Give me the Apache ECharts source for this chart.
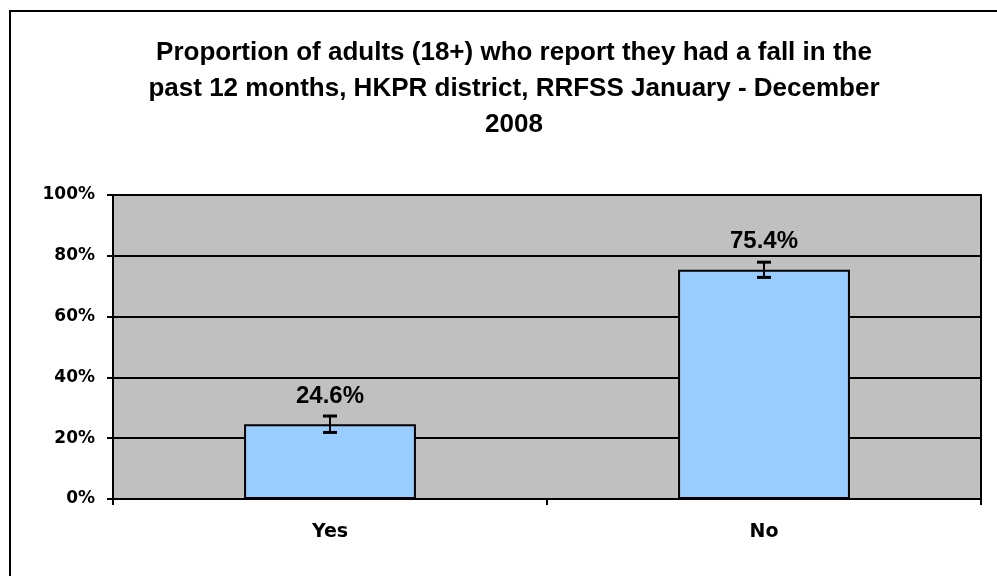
<!DOCTYPE html>
<html>
<head>
<meta charset="utf-8">
<script src="https://cdn.jsdelivr.net/npm/echarts@6/dist/echarts.min.js"></script>
<style>
  html, body { margin: 0; padding: 0; background: #fff; }
  #fallChart { width: 997px; height: 576px; }
</style>
</head>
<body>
<div id="fallChart"></div>
<script>
// data
const categories = ['Yes', 'No']
const proportions = [24.6, 75.4]
const errLow = [21.9, 72.9]
const errHigh = [27.3, 77.9]
const yTicks = [0, 20, 40, 60, 80, 100]

const chart = echarts.init(document.getElementById('fallChart'))

chart.setOption({
    backgroundColor: '#ffffff',
    animation: false,
    title: {
        text: 'Proportion of adults (18+) who report they had a fall in the\npast 12 months, HKPR district, RRFSS January - December\n2008',
        left: 509,
        textAlign: 'center',
        top: 30,
        textStyle: {
            fontFamily: 'Liberation Sans',
            fontWeight: 'bold',
            fontSize: 26,
            lineHeight: 36,
            color: '#000'
        }
    },
    // outer frame of the chart sheet
    graphic: [{
        type: 'rect',
        silent: true,
        shape: { x: 10, y: 11, width: 1100, height: 700 },
        style: { fill: 'none', stroke: '#000', lineWidth: 2 }
    }],
    grid: {
        left: 113,
        top: 195,
        right: 16,
        bottom: 77,
        show: true,
        backgroundColor: '#C0C0C0',
        borderColor: '#000',
        borderWidth: 2
    },
    xAxis: {
        type: 'category',
        data: categories,
        axisLine: { lineStyle: { color: '#000', width: 2 } },
        axisTick: { show: true, length: 6, lineStyle: { color: '#000', width: 2 } },
        axisLabel: {
            margin: 24,
            fontFamily: 'DejaVu Sans',
            fontWeight: 'bold',
            fontSize: 19,
            color: '#000'
        }
    },
    yAxis: {
        type: 'value',
        min: yTicks[0],
        max: yTicks[yTicks.length - 1],
        interval: 20,
        axisLine: { show: true, lineStyle: { color: '#000', width: 2 } },
        axisTick: { show: true, length: 6, lineStyle: { color: '#000', width: 2 } },
        axisLabel: {
            margin: 18,
            formatter: '{value}%',
            fontFamily: 'DejaVu Sans',
            fontWeight: 'bold',
            fontSize: 17,
            color: '#000'
        },
        splitLine: { show: true, lineStyle: { color: '#000', width: 2 } }
    },
    series: [{
        type: 'bar',
        data: proportions,
        barWidth: '39.6%',
        itemStyle: {
            color: '#99CCFF',
            borderColor: '#000',
            borderWidth: 2
        },
        label: {
            show: true,
            position: 'top',
            distance: 16,
            formatter: '{c}%',
            fontFamily: 'Liberation Sans',
            fontWeight: 'bold',
            fontSize: 24,
            color: '#000'
        },
        z: 2
    }, {
        // error bars
        type: 'custom',
        data: categories.map((c, i) => [i, errLow[i], errHigh[i]]),
        renderItem: function (params, api) {
            const lo = api.coord([api.value(0), api.value(1)])
            const hi = api.coord([api.value(0), api.value(2)])
            const half = 7
            return {
                type: 'group',
                children: [
                    { type: 'line', shape: { x1: lo[0], y1: lo[1], x2: hi[0], y2: hi[1] }, style: { stroke: '#000', lineWidth: 2 } },
                    { type: 'line', shape: { x1: lo[0] - half, y1: lo[1], x2: lo[0] + half, y2: lo[1] }, style: { stroke: '#000', lineWidth: 3 } },
                    { type: 'line', shape: { x1: hi[0] - half, y1: hi[1], x2: hi[0] + half, y2: hi[1] }, style: { stroke: '#000', lineWidth: 3 } }
                ]
            }
        },
        z: 3
    }]
})
</script>
</body>
</html>
